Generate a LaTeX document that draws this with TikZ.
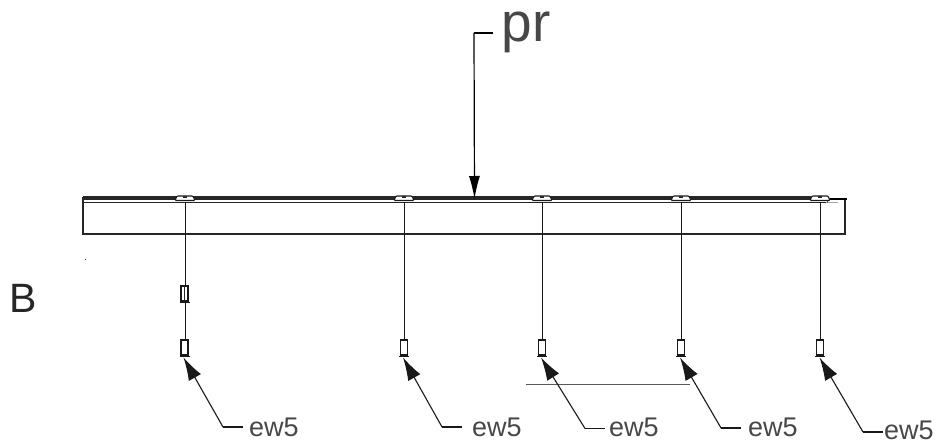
\documentclass[tikz,border=0pt]{standalone}
\usepackage{fontspec}
\setmainfont{Liberation Sans}
\usetikzlibrary{arrows.meta}
\tikzset{
  wire/.style={draw=black!90,line width=1pt},
  beamline/.style={draw=black!85,line width=1.4pt},
  leader/.style={draw=black!90,line width=1.1pt},
  tiparrow/.style={leader,-{Latex[length=23pt,width=14pt]}},
  lbl/.style={text=black!72,inner sep=0pt,anchor=base west,font=\fontsize{27}{27}\selectfont},
  bigl/.style={text=black!72,inner sep=0pt,anchor=base west,font=\fontsize{55}{55}\selectfont},
  blbl/.style={text=black!85,inner sep=0pt,anchor=base west,font=\fontsize{41}{41}\selectfont},
  clip plate/.style={draw=black!90,fill=white,line width=1.1pt,rounded corners=1pt},
  body/.style={draw=black!90,fill=white,line width=1.2pt},
  base/.style={draw=black!90,line width=1.7pt}
}
\newcommand{\plate}[1]{%
  \draw[clip plate] (#1-10,200.5) -- (#1-8,196) -- (#1+8,196) -- (#1+10,200.5) -- cycle;
  \fill[black!85] (#1-2,196.5) rectangle (#1+2,198.2);
}
\newcommand{\ferrule}[2]{%
  \draw[body] (#1-3.5,#2) rectangle (#1+3.5,#2+15);
  \draw[base] (#1-5,#2+16.5) -- (#1+5,#2+16.5);
}
\begin{document}
\begin{tikzpicture}[x=1pt,y=-1pt]
\useasboundingbox (0,0) rectangle (952,446);
% beam
\fill[black!85] (83,196.5) rectangle (811,200.5);
\draw[beamline] (83,202.8) -- (826,202.8);
\draw[draw=black!35,line width=1pt] (826,202.8) -- (838,202.8);
\draw[beamline] (83,197) -- (83,234) -- (845,234) -- (845,199.5);
\draw[draw=black,line width=1.8pt] (828,199) -- (847,199);
\draw[draw=black!60,line width=1pt] (827,199) -- (827,202.8);
% hangers
\coordinate (h1) at (185,202); \coordinate (h2) at (404,202); \coordinate (h3) at (542,202);
\coordinate (h4) at (681,202); \coordinate (h5) at (820,202);
\coordinate (f1a) at (185,286); \coordinate (f1b) at (185,303); \coordinate (f1) at (185,340);
\coordinate (f2) at (404,340); \coordinate (f3) at (542,340); \coordinate (f4) at (681,340);
\coordinate (f5) at (820,340);
\draw[wire] (h1) -- (f1a);
\draw[wire] (f1b) -- (f1);
\draw[wire] (h2) -- (f2);
\draw[wire] (h3) -- (f3);
\draw[wire] (h4) -- (f4);
\draw[wire] (h5) -- (f5);
\plate{185}\plate{404}\plate{542}\plate{681}\plate{820}
\ferrule{184.5}{340}\ferrule{404}{340}\ferrule{542}{340}\ferrule{681}{340}\ferrule{820}{340}
% upper ferrule
\draw[body] (181,286) rectangle (188,301);
\draw[draw=black!85,line width=0.8pt] (184.5,286) -- (184.5,301);
\draw[base] (179.5,302.5) -- (189.5,302.5);
% tick
\fill[black!80] (84.5,258.5) rectangle (86,260);
% pr
\node[bigl] (pr) at (501.5,42) {pr};
\coordinate (prel) at (474,33);
\coordinate (prend) at (493,33);
\coordinate (prtip) at (474.5,199);
\draw[draw=black,line width=1.2pt] (prend) -- (prel);
\draw[draw=black,line width=1.2pt,-{Latex[length=23pt,width=11pt]}] (prel) -- (prtip);
% B
\node[blbl] (b) at (9,312) {B};
% horizontal rule
\coordinate (r1) at (526,384.5); \coordinate (r2) at (690,384.5);
\draw[draw=black!65,line width=1.2pt] (r1) -- (r2);
% leaders
\foreach \nm/\tx/\ex/\ey/\lx/\base in {a/183.5/223/427/249/436,c/403/442/427/472/436,e/541/585/428.5/609/436,g/680/721/428/748/436,i/819.5/863/432/884/439}{
  \coordinate (t\nm) at (\tx,357.5);
  \coordinate (e\nm) at (\ex,\ey);
  \coordinate (s\nm) at (\ex+20,\ey);
  \node[lbl] (l\nm) at (\lx,\base) {ew5};
  \draw[leader] (s\nm) -- (e\nm);
  \draw[tiparrow] (e\nm) -- (t\nm);
}
\end{tikzpicture}
\end{document}
